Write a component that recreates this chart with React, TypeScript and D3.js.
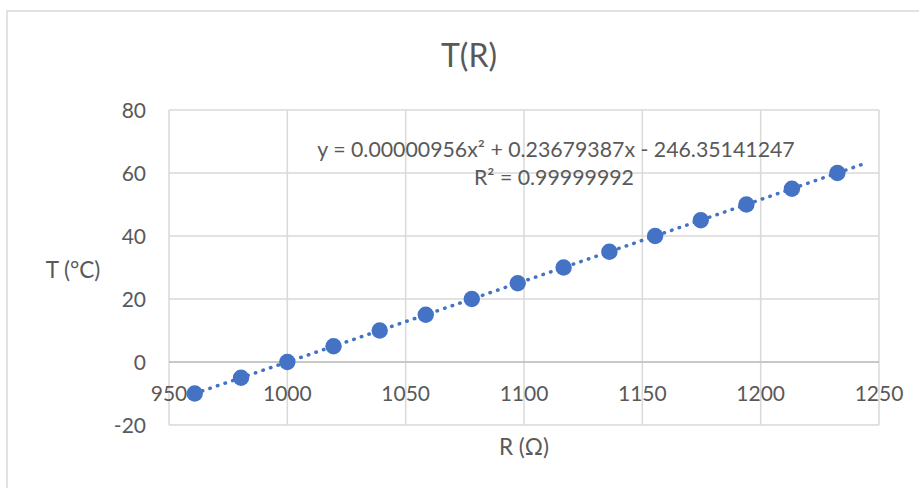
import { useMemo } from "react";
import * as d3 from "d3";

// measured points (R in ohm, T in °C)
const resistance = [960.86, 980.44, 1000, 1019.53, 1039.03, 1058.49, 1077.94, 1097.35, 1116.73, 1136.08, 1155.41, 1174.7, 1193.97, 1213.21, 1232.42];
const temperature = [-10, -5, 0, 5, 10, 15, 20, 25, 30, 35, 40, 45, 50, 55, 60];

const xTicks = [950, 1000, 1050, 1100, 1150, 1200, 1250];
const yTicks = [-20, 0, 20, 40, 60, 80];

// polynomial trendline shown on the chart
const trendCoef = [0.00000956, 0.23679387, -246.35141247];
const trendEnd = 1245;
const equationText = "y = 0.00000956x² + 0.23679387x - 246.35141247";
const r2Text = "R² = 0.99999992";

const titleText = "T(R)";
const xTitle = "R (Ω)";
const yTitle = "T (°C)";

export default function App() {
    const width = 919;
    const height = 488;
    const plot = { left: 169, top: 110, right: 879, bottom: 425 };
    const font = "Lato, 'Open Sans', sans-serif";
    const textColor = "#595959";
    const gridColor = "#d9d9d9";
    const blue = "#4472c4";

    const xScale = useMemo(() => d3.scaleLinear().domain([950, 1250]).range([plot.left, plot.right]), []);
    const yScale = useMemo(() => d3.scaleLinear().domain([-20, 80]).range([plot.bottom, plot.top]), []);

    const points = resistance.map((r, i) => ({ x: r, y: temperature[i] }));

    const trendPath = useMemo(() => {
        const xs = d3.range(resistance[0], trendEnd, 2).concat([trendEnd]);
        const line = d3.line<number>()
            .x((x) => xScale(x))
            .y((x) => yScale(trendCoef[0] * x * x + trendCoef[1] * x + trendCoef[2]));
        return line(xs) ?? "";
    }, [xScale, yScale]);

    const y0 = yScale(0);

    return (
        <svg width={width} height={height} style={{ position: "absolute", left: 0, top: 0, background: "#fff" }} fontFamily={font}>
            <rect x={7} y={11} width={width} height={height} fill="#fff" stroke={gridColor} strokeWidth={1.5} />

            {/* gridlines */}
            {yTicks.map((t) => (
                <line key={`gy-${t}`} x1={plot.left} x2={plot.right} y1={yScale(t)} y2={yScale(t)} stroke={gridColor} strokeWidth={1.5} />
            ))}
            {xTicks.map((t) => (
                <line key={`gx-${t}`} x1={xScale(t)} x2={xScale(t)} y1={plot.top} y2={plot.bottom} stroke={gridColor} strokeWidth={1.5} />
            ))}
            <line x1={plot.left} x2={plot.right} y1={y0} y2={y0} stroke="#bfbfbf" strokeWidth={1.5} />

            {/* tick labels */}
            {yTicks.map((t) => (
                <text key={`ty-${t}`} x={146} y={yScale(t)} dy="0.36em" textAnchor="end" fontSize={21} fill={textColor}>{t}</text>
            ))}
            {xTicks.map((t) => (
                <text key={`tx-${t}`} x={xScale(t)} y={y0 + 39} textAnchor="middle" fontSize={21} fill={textColor}>{t}</text>
            ))}

            {/* trendline */}
            <path d={trendPath} fill="none" stroke={blue} strokeWidth={3.5} strokeLinecap="round" strokeDasharray="0.5 7.5" />

            {/* markers */}
            {points.map((p, i) => (
                <circle key={i} cx={xScale(p.x)} cy={yScale(p.y)} r={8.2} fill={blue} />
            ))}

            {/* equation */}
            <text x={556} y={157} textAnchor="middle" fontSize={21.3} fill={textColor}>{equationText}</text>
            <text x={554} y={185} textAnchor="middle" fontSize={21.3} fill={textColor}>{r2Text}</text>

            {/* titles */}
            <text x={469} y={67} textAnchor="middle" fontSize={32} fill={textColor}>{titleText}</text>
            <text x={73} y={278} textAnchor="middle" fontSize={22.5} fill={textColor}>{yTitle}</text>
            <text x={524} y={455} textAnchor="middle" fontSize={22.5} fill={textColor}>{xTitle}</text>
        </svg>
    );
}
